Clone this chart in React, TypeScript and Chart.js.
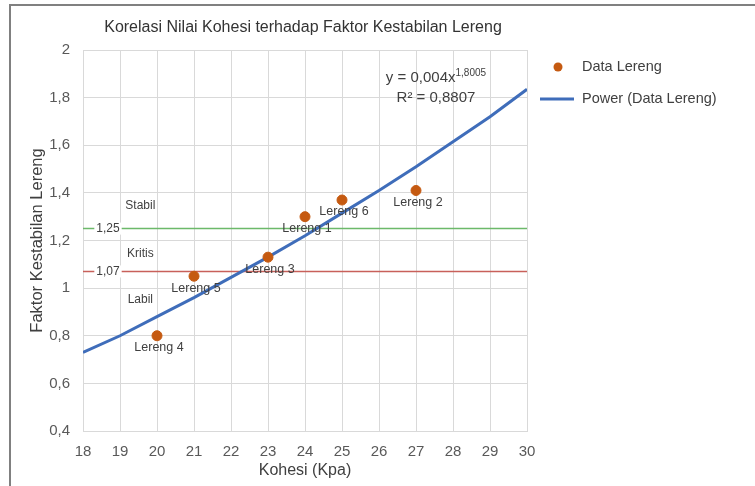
import { useEffect, useRef } from "react";
import { Chart, registerables } from "chart.js";

Chart.register(...registerables);

// ---- data ----
const lerengNames = ["Lereng 1", "Lereng 2", "Lereng 3", "Lereng 4", "Lereng 5", "Lereng 6"];
const kohesi = [24, 27, 23, 20, 21, 25];
const faktorKestabilan = [1.3, 1.41, 1.13, 0.8, 1.05, 1.37];

const trendKohesi = [18, 19, 20, 21, 22, 23, 24, 25, 26, 27, 28, 29, 30];
const trendFaktor = [0.73, 0.8, 0.88, 0.96, 1.045, 1.13, 1.22, 1.315, 1.41, 1.51, 1.615, 1.72, 1.835];

const batasNilai = [1.25, 1.07];
const batasLabels = ["1,25", "1,07"];
const batasColors = ["#6CB96A", "#C8605A"];

const zonaLabels = ["Stabil", "Kritis", "Labil"];
const zonaFaktor = [1.345, 1.143, 0.95];
const zonaKohesi = 19.55;

const xMin = 18;
const xMax = 30;
const yMin = 0.4;
const yMax = 2;

const chartTitle = "Korelasi Nilai Kohesi terhadap Faktor Kestabilan Lereng";
const xTitle = "Kohesi (Kpa)";
const yTitle = "Faktor Kestabilan Lereng";
const legendLabels = ["Data Lereng", "Power (Data Lereng)"];
const eqMain = "y = 0,004x";
const eqSup = "1,8005";
const eqR2 = "R² = 0,8807";
const eqPos = { x: 27.54, y1: 1.883, y2: 1.799 };

const POINT_COLOR = "#C55A11";
const LINE_COLOR = "#3F6DBA";
const FONT = "'Liberation Sans', Arial, sans-serif";

const fmt = (v: number) => String(Math.round(v * 10) / 10).replace(".", ",");

export default function App() {
  const ref = useRef<HTMLCanvasElement | null>(null);

  useEffect(() => {
    if (!ref.current) return;

    const overlay = {
      id: "overlay",
      afterDatasetsDraw(chart: any) {
        const ctx = chart.ctx as CanvasRenderingContext2D;
        const xs = chart.scales.x;
        const ys = chart.scales.y;
        ctx.save();
        // threshold labels
        ctx.font = `12px ${FONT}`;
        ctx.textAlign = "center";
        ctx.textBaseline = "middle";
        batasNilai.forEach((v, i) => {
          const px = chart.chartArea.left + 25;
          const py = ys.getPixelForValue(v);
          const w = ctx.measureText(batasLabels[i]).width + 4;
          ctx.fillStyle = "#FFFFFF";
          ctx.fillRect(px - w / 2, py - 6, w, 12);
          ctx.fillStyle = "#404040";
          ctx.fillText(batasLabels[i], px, py);
        });
        // zone labels
        ctx.fillStyle = "#404040";
        zonaLabels.forEach((t, i) => {
          ctx.fillText(t, xs.getPixelForValue(zonaKohesi), ys.getPixelForValue(zonaFaktor[i]));
        });
        // point labels
        ctx.font = `12.5px ${FONT}`;
        lerengNames.forEach((t, i) => {
          const px = xs.getPixelForValue(kohesi[i]);
          const py = ys.getPixelForValue(faktorKestabilan[i]);
          ctx.fillText(t, px + 2, py + 12);
        });
        // equation
        ctx.fillStyle = "#404040";
        const cx = xs.getPixelForValue(eqPos.x);
        const y1 = ys.getPixelForValue(eqPos.y1);
        const y2 = ys.getPixelForValue(eqPos.y2);
        ctx.font = `15px ${FONT}`;
        const w1 = ctx.measureText(eqMain).width;
        ctx.font = `10px ${FONT}`;
        const w2 = ctx.measureText(eqSup).width;
        const sx = cx - (w1 + w2) / 2;
        ctx.textAlign = "left";
        ctx.font = `15px ${FONT}`;
        ctx.fillText(eqMain, sx, y1);
        ctx.font = `10px ${FONT}`;
        ctx.fillText(eqSup, sx + w1, y1 - 5);
        ctx.font = `15px ${FONT}`;
        ctx.textAlign = "center";
        ctx.fillText(eqR2, cx, y2);
        ctx.restore();
      },
      afterDraw(chart: any) {
        const ctx = chart.ctx as CanvasRenderingContext2D;
        const a = chart.chartArea;
        ctx.save();
        // title
        ctx.fillStyle = "#333333";
        ctx.font = `16px ${FONT}`;
        ctx.textAlign = "center";
        ctx.textBaseline = "middle";
        ctx.fillText(chartTitle, (a.left + a.right) / 2 - 2, 28);
        // legend
        ctx.fillStyle = POINT_COLOR;
        ctx.beginPath();
        ctx.arc(a.right + 31, a.top + 17, 4.5, 0, Math.PI * 2);
        ctx.fill();
        ctx.strokeStyle = LINE_COLOR;
        ctx.lineWidth = 3;
        ctx.beginPath();
        ctx.moveTo(a.right + 13, a.top + 49);
        ctx.lineTo(a.right + 47, a.top + 49);
        ctx.stroke();
        ctx.fillStyle = "#404040";
        ctx.font = `14.5px ${FONT}`;
        ctx.textAlign = "left";
        ctx.fillText(legendLabels[0], a.right + 55, a.top + 17);
        ctx.fillText(legendLabels[1], a.right + 55, a.top + 49);
        // frame
        ctx.strokeStyle = "#808080";
        ctx.lineWidth = 2;
        ctx.beginPath();
        ctx.moveTo(10, 486);
        ctx.lineTo(10, 5);
        ctx.lineTo(755, 5);
        ctx.stroke();
        ctx.restore();
      },
    };

    const chart = new Chart(ref.current, {
      type: "scatter",
      data: {
        datasets: [
          {
            label: legendLabels[0],
            data: kohesi.map((x, i) => ({ x, y: faktorKestabilan[i] })),
            backgroundColor: POINT_COLOR,
            borderColor: POINT_COLOR,
            pointRadius: 5,
            showLine: false,
          },
          {
            label: legendLabels[1],
            data: trendKohesi.map((x, i) => ({ x, y: trendFaktor[i] })),
            borderColor: LINE_COLOR,
            borderWidth: 3,
            pointRadius: 0,
            showLine: true,
          },
          ...batasNilai.map((v, i) => ({
            label: batasLabels[i],
            data: [
              { x: xMin, y: v },
              { x: xMax, y: v },
            ],
            borderColor: batasColors[i],
            borderWidth: 1.5,
            pointRadius: 0,
            showLine: true,
          })),
        ],
      },
      options: {
        animation: false,
        responsive: false,
        layout: { padding: { left: 0, top: 50, right: 228, bottom: 0 } },
        plugins: {
          legend: { display: false },
          tooltip: { enabled: false },
          title: { display: false },
        },
        scales: {
          x: {
            type: "linear",
            min: xMin,
            max: xMax,
            ticks: {
              stepSize: 1,
              color: "#595959",
              font: { family: FONT, size: 15 },
              padding: 12,
            },
            grid: { color: "#D9D9D9", drawTicks: false },
            border: { color: "#D9D9D9" },
            title: {
              display: true,
              text: xTitle,
              color: "#404040",
              font: { family: FONT, size: 16 },
              padding: { top: 0, bottom: 6 },
            },
            afterFit(scale: any) {
              scale.height = 55;
            },
          },
          y: {
            type: "linear",
            min: yMin,
            max: yMax,
            ticks: {
              stepSize: 0.2,
              color: "#595959",
              font: { family: FONT, size: 15 },
              padding: 13,
              callback: (v: any) => fmt(Number(v)),
            },
            grid: { color: "#D9D9D9", drawTicks: false },
            border: { color: "#D9D9D9" },
            title: {
              display: true,
              text: yTitle,
              color: "#404040",
              font: { family: FONT, size: 16.5 },
              padding: { top: 28, bottom: 0 },
            },
            afterFit(scale: any) {
              scale.width = 83;
            },
          },
        },
      },
      plugins: [overlay],
    });

    return () => chart.destroy();
  }, []);

  return (
    <div style={{ position: "absolute", left: 0, top: 0, width: 755, height: 486, background: "#FFFFFF" }}>
      <canvas ref={ref} width={755} height={486} style={{ display: "block" }} />
    </div>
  );
}
